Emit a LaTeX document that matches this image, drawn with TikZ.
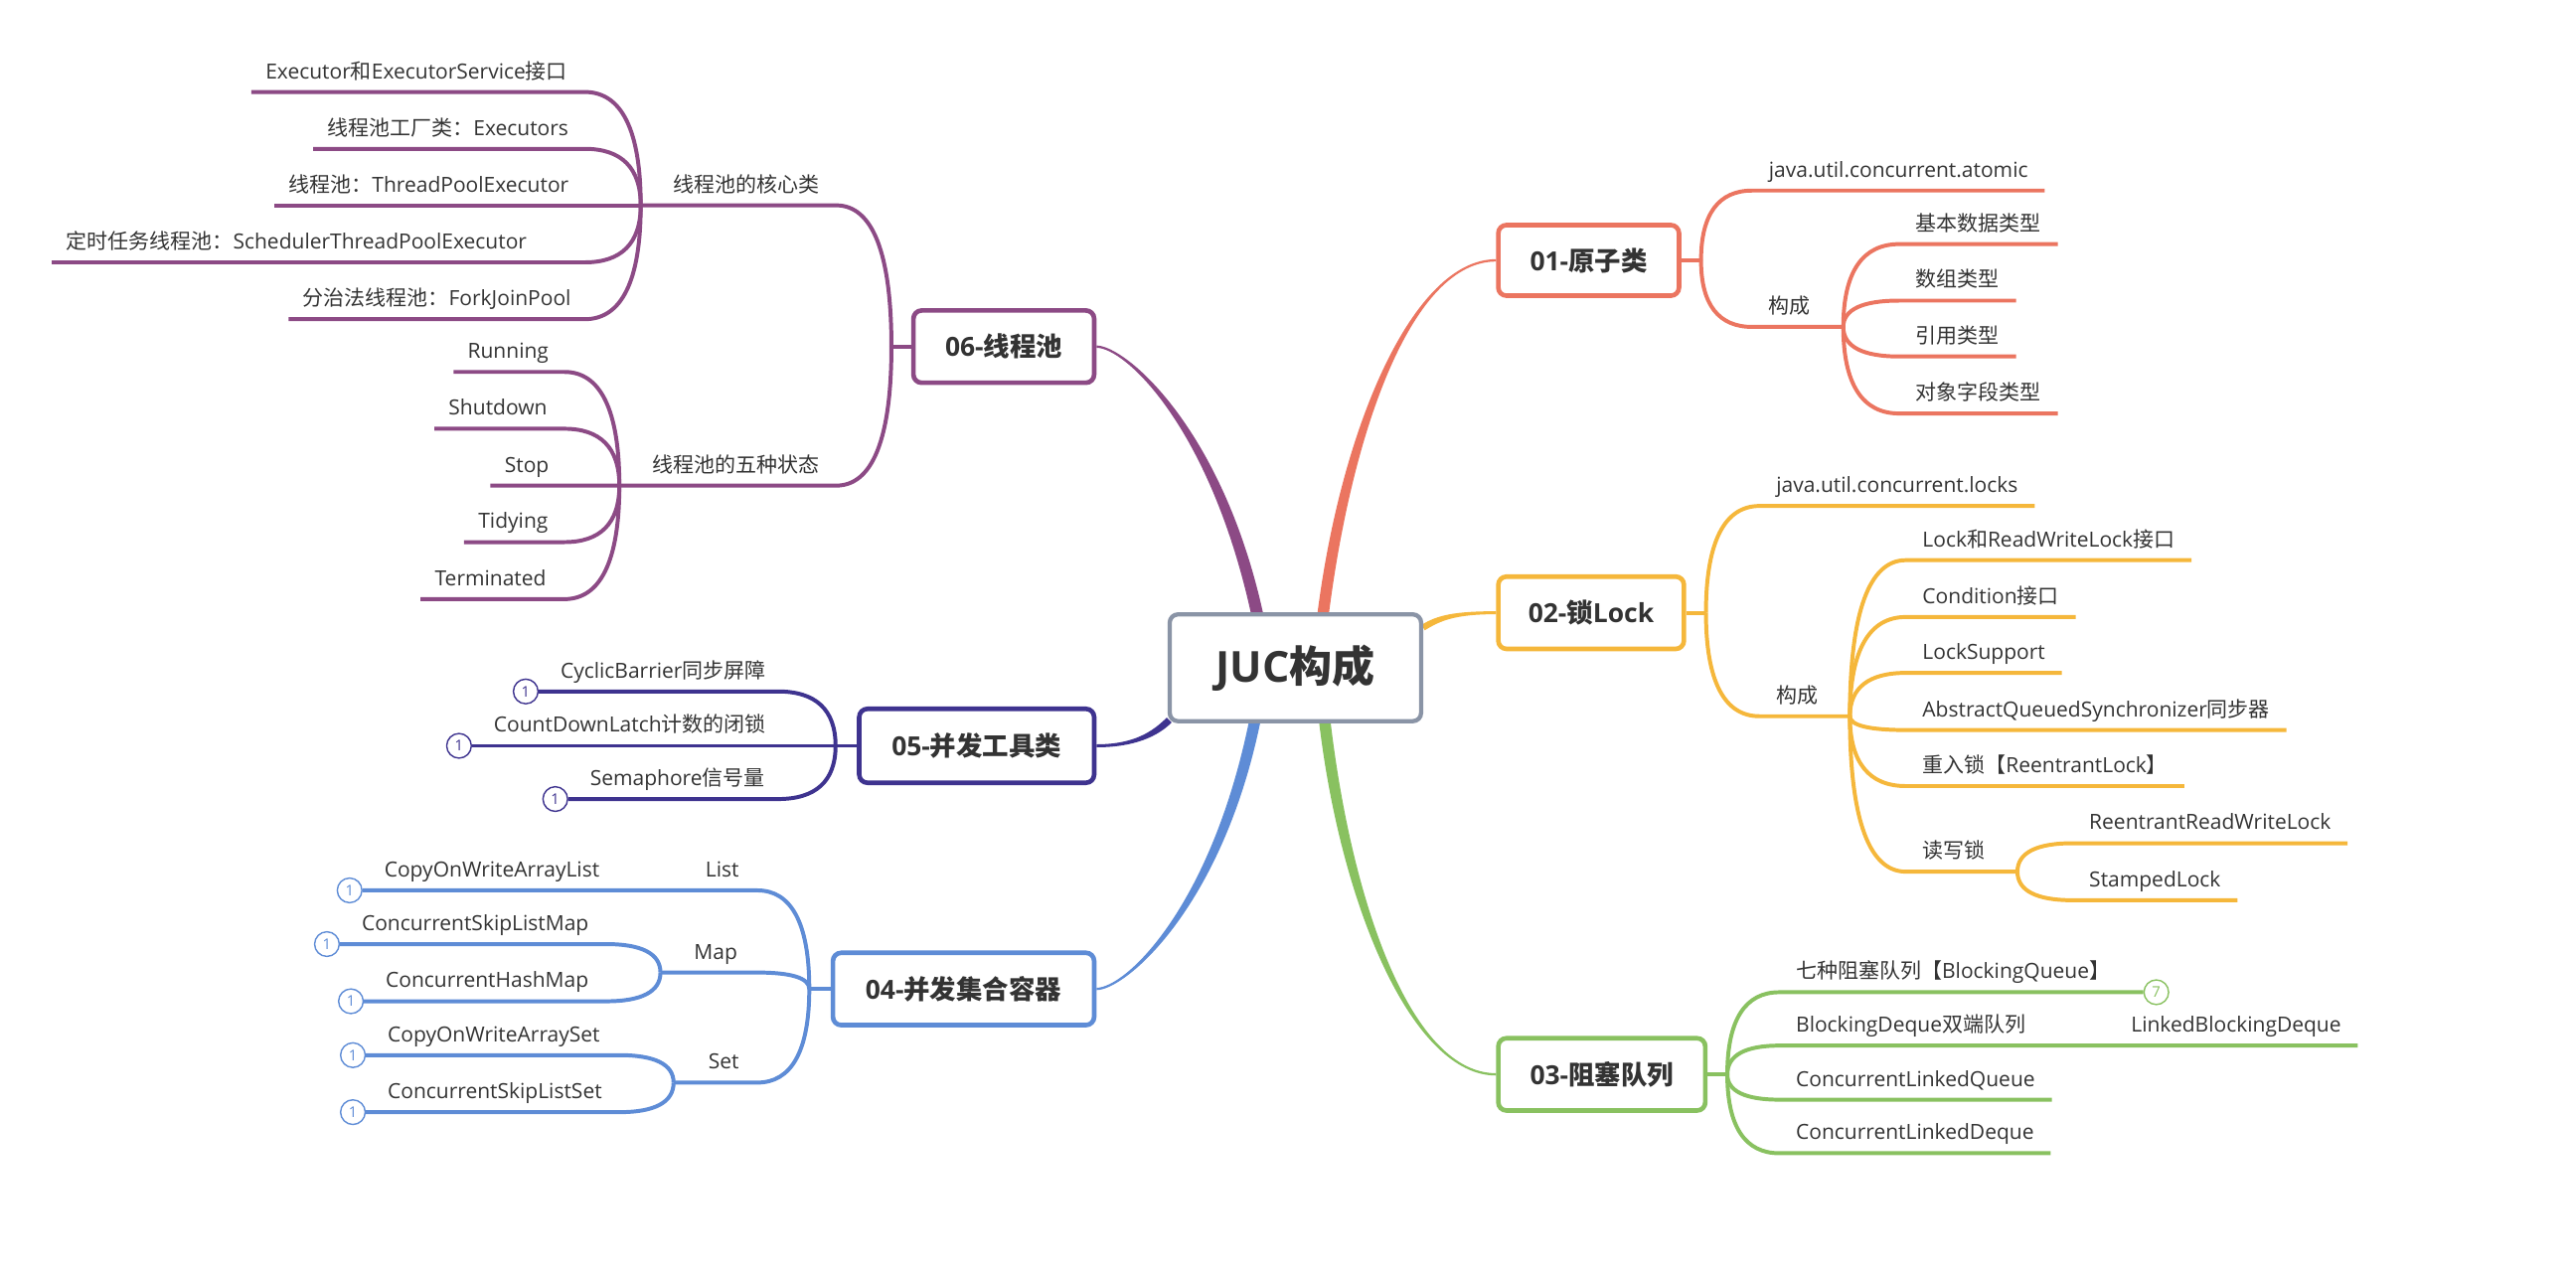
\documentclass[tikz,border=0pt]{standalone}
\usepackage{fontspec}
\setmainfont{Open Sans}
\newfontfamily\zhfont{Noto Sans CJK SC}
\newcommand\zh[1]{{\zhfont #1}}
\newcommand\lf{\fontsize{12.7}{15}\selectfont}
\usetikzlibrary{calc}
\pgfdeclarelayer{bg}
\pgfsetlayers{bg,main}
\definecolor{cA}{HTML}{EB7560}
\definecolor{cB}{HTML}{F5B73B}
\definecolor{cC}{HTML}{89C160}
\definecolor{cD}{HTML}{5E8CD6}
\definecolor{cE}{HTML}{3E338F}
\definecolor{cF}{HTML}{8C4A85}
\definecolor{cG}{HTML}{8A94A6}
\definecolor{txt}{HTML}{333333}
% #1 colour, #2 start, #3 ctrl1, #4 ctrl2, #5 end, #6 start half-width vector, #7 end half-width vector
\newcommand\taper[7]{%
  \fill[#1] ($(#2)+(#6)$) .. controls ($(#3)+(#6)$) and ($(#4)+(#7)$) .. ($(#5)+(#7)$)
    -- ($(#5)-(#7)$) .. controls ($(#4)-(#7)$) and ($(#3)-(#6)$) .. ($(#2)-(#6)$) -- cycle;}
\begin{document}
\begin{tikzpicture}[x=1pt,y=-1pt,
  topic/.style={draw, line width=2.8pt, rounded corners=5pt, fill=white, text=txt,
    font=\fontsize{16}{19}\selectfont\bfseries, inner sep=0pt, minimum height=44pt},
  leaf/.style={anchor=south west, inner xsep=10pt, inner ysep=8pt, text depth=0pt, text=txt, font=\lf},
  leafl/.style={anchor=south west, inner xsep=8.5pt, inner ysep=8pt, text depth=0pt, text=txt, font=\lf},
  lbll/.style={anchor=south east, inner xsep=10pt, inner ysep=8pt, text depth=0pt, text=txt, font=\lf},
  badge/.style={circle, draw, line width=0.85pt, fill=white, minimum size=15pt, inner sep=0pt,
    font=\fontsize{9}{9}\selectfont},
  ln/.style={line width=2.4pt},
  brc/.style={to path={.. controls ($(\tikztostart|-\tikztotarget)!.33!(\tikztostart)$)
      and ($(\tikztostart|-\tikztotarget)!.35!(\tikztotarget)$) .. (\tikztotarget)}}
]
\useasboundingbox (0,0) rectangle (1568,776.1);

% ---------- topics ----------
\node[topic, draw=cG, line width=2.6pt, minimum width=153pt, minimum height=65pt,
  font=\fontsize{26}{30}\selectfont\bfseries] (juc) at (788.5,406.5) {JUC\zh{构成}};
\node[topic, draw=cA, minimum width=110pt, minimum height=43pt] (t1) at (967,158.5) {01-\zh{原子类}};
\node[topic, draw=cB, minimum width=113pt] (t2) at (968.5,373) {02-\zh{锁}Lock};
\node[topic, draw=cC, minimum width=126pt] (t3) at (975,654) {03-\zh{阻塞队列}};
\node[topic, draw=cD, minimum width=159pt] (t4) at (586.5,602) {04-\zh{并发集合容器}};
\node[topic, draw=cE, minimum width=143pt, minimum height=45pt] (t5) at (594.5,454) {05-\zh{并发工具类}};
\node[topic, draw=cF, minimum width=110pt] (t6) at (611,211) {06-\zh{线程池}};

% ---------- main connectors ----------
\coordinate (s1) at ($(juc.north)+(17,0)$);
\coordinate (s6) at ($(juc.north)+(-23.5,0)$);
\coordinate (s3) at ($(juc.south)+(18,0)$);
\coordinate (s4) at ($(juc.south)+(-25,0)$);
\coordinate (s2) at ($(juc.east)+(0,-24.5)$);
\coordinate (s5) at ($(juc.south west)+(1,-2)$);
\begin{pgfonlayer}{bg}
\taper{cA}{s1}{820,260}{860,158.5}{t1.west}{-3.5,0}{0,-0.7}
\taper{cF}{s6}{740,260}{685,211}{t6.east}{-3.7,0}{0,0.7}
\taper{cC}{s3}{820,553}{860,654}{t3.west}{-3.5,0}{0,0.7}
\taper{cD}{s4}{740,553}{685,602}{t4.east}{-3.5,0}{0,-0.7}
\taper{cB}{s2}{876,376}{886,373}{t2.west}{-0.9,-1.7}{0,-0.9}
\taper{cE}{s5}{703,447}{690,454}{t5.east}{1.5,1.5}{0,0.9}
\end{pgfonlayer}

% ---------- 01 ----------
\coordinate (j1) at ($(t1.east)+(12,0)$);
\node[leaf] (a1) at (1066.5,116) {java.util.concurrent.atomic};
\node[leaf] (a1g) at (1066.5,199) {\zh{构成}};
\coordinate (j1b) at (1122,199);
\node[leaf] (a11) at (1156,148.6) {\zh{基本数据类型}};
\node[leaf] (a12) at (1156,183) {\zh{数组类型}};
\node[leaf] (a13) at (1156,217) {\zh{引用类型}};
\node[leaf] (a14) at (1156,251.7) {\zh{对象字段类型}};
\begin{pgfonlayer}{bg}
\begin{scope}[ln, draw=cA]
\draw (t1.east) -- (j1);
\draw (j1) to[brc] (a1.south west) -- (a1.south east);
\draw (j1) to[brc] (a1g.south west) -- (j1b);
\foreach \n in {a11,a12,a13,a14} \draw (j1b) to[brc] (\n.south west) -- (\n.south east);
\end{scope}
\end{pgfonlayer}

% ---------- 02 ----------
\coordinate (j2) at ($(t2.east)+(12,0)$);
\node[leaf] (b1) at (1071,308) {java.util.concurrent.locks};
\node[leaf] (b1g) at (1071,436) {\zh{构成}};
\coordinate (j2b) at (1126,436);
\node[leaf] (b11) at (1160,341) {Lock\zh{和}ReadWriteLock\zh{接口}};
\node[leaf] (b12) at (1160,375.6) {Condition\zh{接口}};
\node[leaf] (b13) at (1160,409.6) {LockSupport};
\node[leaf] (b14) at (1160,444.4) {AbstractQueuedSynchronizer\zh{同步器}};
\node[leaf] (b15) at (1160,478.5) {\zh{重入锁【}ReentrantLock\zh{】}};
\node[leaf] (b16) at (1160,530.6) {\zh{读写锁}};
\coordinate (j2c) at (1228,530.6);
\node[leaf] (b161) at (1261.5,513.3) {ReentrantReadWriteLock};
\node[leaf] (b162) at (1261.5,548) {StampedLock};
\begin{pgfonlayer}{bg}
\begin{scope}[ln, draw=cB]
\draw (t2.east) -- (j2);
\draw (j2) to[brc] (b1.south west) -- (b1.south east);
\draw (j2) to[brc] (b1g.south west) -- (j2b);
\foreach \n in {b11,b12,b13,b14,b15} \draw (j2b) to[brc] (\n.south west) -- (\n.south east);
\draw (j2b) to[brc] (b16.south west) -- (j2c);
\foreach \n in {b161,b162} \draw (j2c) to[brc] (\n.south west) -- (\n.south east);
\end{scope}
\end{pgfonlayer}

% ---------- 03 ----------
\coordinate (j3) at ($(t3.east)+(12,0)$);
\node[leaf] (q1) at (1083,604) {\zh{七种阻塞队列【}BlockingQueue\zh{】}};
\node[badge, draw=cC, text=cC] (q1b) at ($(q1.south east)+(18,0)$) {7};
\node[leaf] (q2) at (1083,636.5) {BlockingDeque\zh{双端队列}};
\node[leaf] (q21) at (1287,636.5) {LinkedBlockingDeque};
\node[leaf] (q3) at (1083,669.4) {ConcurrentLinkedQueue};
\node[leaf] (q4) at (1083,702) {ConcurrentLinkedDeque};
\begin{pgfonlayer}{bg}
\begin{scope}[ln, draw=cC]
\draw (t3.east) -- (j3);
\draw (j3) to[brc] (q1.south west) -- (q1b.west);
\draw (j3) to[brc] (q2.south west) -- (q21.south east);
\foreach \n in {q3,q4} \draw (j3) to[brc] (\n.south west) -- (\n.south east);
\end{scope}
\end{pgfonlayer}

% ---------- 04 ----------
\coordinate (j4) at ($(t4.west)+(-13,0)$);
\coordinate (k4l) at (461,542);
\coordinate (k4m) at (461,592);
\coordinate (k4s) at (461,659);
\coordinate (j4m) at (402,592);
\coordinate (j4s) at (410,659);
\coordinate (x4m) at (369,0);
\coordinate (x4s) at (377,0);
\node[lbll, inner xsep=11pt] (d1) at (k4l) {List};
\node[lbll, inner xsep=12pt] (d2) at (k4m) {Map};
\node[lbll, inner xsep=11pt] (d3) at (k4s) {Set};
\node[badge, draw=cD, text=cD] (d1b) at (212.8,542) {1};
\node[leaf] (d11) at ($(d1b.center)+(11,0)$) {CopyOnWriteArrayList};
\node[badge, draw=cD, text=cD] (d21b) at (199,574.7) {1};
\node[leaf] (d21) at ($(d21b.center)+(11,0)$) {ConcurrentSkipListMap};
\node[badge, draw=cD, text=cD] (d22b) at (213.6,609.5) {1};
\node[leaf] (d22) at ($(d22b.center)+(11,0)$) {ConcurrentHashMap};
\node[badge, draw=cD, text=cD] (d31b) at (214.8,642.3) {1};
\node[leaf] (d31) at ($(d31b.center)+(11,0)$) {CopyOnWriteArraySet};
\node[badge, draw=cD, text=cD] (d32b) at (214.8,677) {1};
\node[leaf] (d32) at ($(d32b.center)+(11,0)$) {ConcurrentSkipListSet};
\begin{pgfonlayer}{bg}
\begin{scope}[ln, draw=cD]
\draw (t4.west) -- (j4);
\draw (j4) to[brc] (k4l) -- (d1b.east);
\draw (j4) to[brc] (k4m) -- (j4m);
\draw (j4) to[brc] (k4s) -- (j4s);
\draw (j4m) to[brc] (x4m|-d21b) -- (d21b.east);
\draw (j4m) to[brc] (x4m|-d22b) -- (d22b.east);
\draw (j4s) to[brc] (x4s|-d31b) -- (d31b.east);
\draw (j4s) to[brc] (x4s|-d32b) -- (d32b.east);
\end{scope}
\end{pgfonlayer}

% ---------- 05 ----------
\coordinate (j5) at ($(t5.west)+(-13,0)$);
\coordinate (x5) at (473.6,0);
\node[badge, draw=cE, text=cE] (e1b) at (320,420.9) {1};
\node[leaf] (e1) at ($(e1b.center)+(11,0)$) {CyclicBarrier\zh{同步屏障}};
\node[badge, draw=cE, text=cE] (e2b) at (279.4,454) {1};
\node[leaf] (e2) at ($(e2b.center)+(11,0)$) {CountDownLatch\zh{计数的闭锁}};
\node[badge, draw=cE, text=cE] (e3b) at (338,486.4) {1};
\node[leaf] (e3) at ($(e3b.center)+(11,0)$) {Semaphore\zh{信号量}};
\begin{pgfonlayer}{bg}
\begin{scope}[ln, draw=cE]
\draw (t5.west) -- (j5);
\foreach \n in {e1b,e2b,e3b} \draw (j5) to[brc] (x5|-\n) -- (\n.east);
\end{scope}
\end{pgfonlayer}

% ---------- 06 ----------
\coordinate (j6) at ($(t6.west)+(-12,0)$);
\coordinate (k6a) at (509,125);
\coordinate (k6b) at (509,295.6);
\coordinate (j6a) at (390,125);
\coordinate (j6b) at (377,295.6);
\coordinate (x6a) at (356,0);
\coordinate (x6b) at (343.6,0);
\node[lbll] (f1) at (k6a) {\zh{线程池的核心类}};
\node[lbll] (f2) at (k6b) {\zh{线程池的五种状态}};
\node[leafl] (f11) at (153,56) {Executor\zh{和}ExecutorService\zh{接口}};
\node[leafl] (f12) at (190.6,90.6) {\zh{线程池工厂类：}Executors};
\node[leafl] (f13) at (167,125) {\zh{线程池：}ThreadPoolExecutor};
\node[leafl] (f14) at (31.6,159.7) {\zh{定时任务线程池：}SchedulerThreadPoolExecutor};
\node[leafl] (f15) at (175.6,194.3) {\zh{分治法线程池：}ForkJoinPool};
\node[leafl] (f21) at (276,226.4) {Running};
\node[leafl] (f22) at (264.4,261) {Shutdown};
\node[leafl] (f23) at (298.5,295.6) {Stop};
\node[leafl] (f24) at (282.5,330) {Tidying};
\node[leafl] (f25) at (256,364.7) {Terminated};
\begin{pgfonlayer}{bg}
\begin{scope}[ln, draw=cF]
\draw (t6.west) -- (j6);
\draw (j6) to[brc] (k6a) -- (j6a);
\draw (j6) to[brc] (k6b) -- (j6b);
\foreach \n in {f11,f12,f13,f14,f15} \draw (j6a) to[brc] (x6a|-\n.south) -- (\n.south west);
\foreach \n in {f21,f22,f23,f24,f25} \draw (j6b) to[brc] (x6b|-\n.south) -- (\n.south west);
\end{scope}
\end{pgfonlayer}
\end{tikzpicture}
\end{document}
